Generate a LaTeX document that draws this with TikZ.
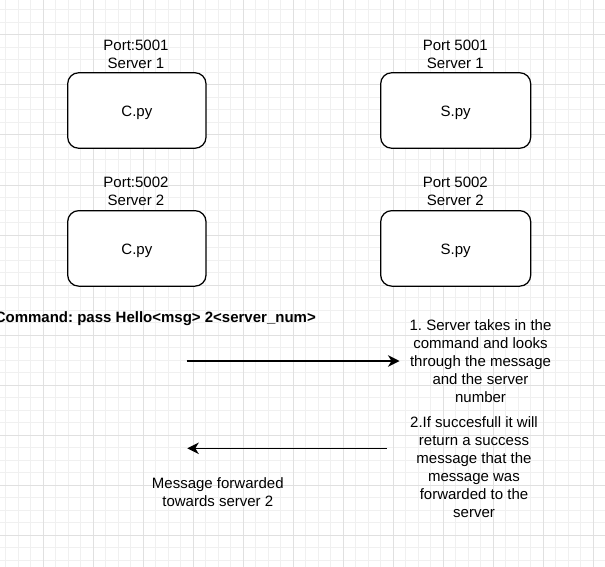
\documentclass[tikz,border=0pt]{standalone}
\usepackage{fontspec}
\setmainfont{Liberation Sans}
\usetikzlibrary{arrows.meta}
\definecolor{gridminor}{HTML}{F0F0F0}
\definecolor{gridmajor}{HTML}{E0E0E0}
\frenchspacing
\begin{document}
\begin{tikzpicture}[x=1bp,y=-1bp,
  minorline/.style={draw=gridminor, line width=1bp},
  majorline/.style={draw=gridmajor, line width=1bp},
  lbl/.style={inner sep=0pt, align=center, font=\fontsize{15bp}{17.6bp}\selectfont, anchor=north},
  blk/.style={inner sep=0pt, align=center, font=\fontsize{15bp}{17.9bp}\selectfont, anchor=north},
  pybox/.style={draw=black, fill=white, line width=1.25bp, rounded corners=11bp, minimum height=75.5bp, inner sep=0pt, font=\fontsize{15bp}{18bp}\selectfont, text height=13bp, text depth=0pt},
  flow/.style={draw=black, line width=1.25bp, -{Stealth[length=11.5bp,width=11.5bp,inset=3.5bp]}}]
\useasboundingbox (0,0) rectangle (605,567);
\fill[white] (0,0) rectangle (605,567);
% grid
\foreach \x in {5.83,18.33,...,605} \draw[minorline] (\x,0) -- (\x,567);
\foreach \y in {10,22.5,...,567} \draw[minorline] (0,\y) -- (605,\y);
\foreach \x in {43.33,93.33,...,605} \draw[majorline] (\x,0) -- (\x,567);
\foreach \y in {35,85,...,567} \draw[majorline] (0,\y) -- (605,\y);
% boxes
\node[pybox, minimum width=138.3bp] (c1) at (136.85,110.5) {C.py};
\node[pybox, minimum width=150bp] (s1) at (455.7,110.5) {S.py};
\node[pybox, minimum width=138.3bp] (c2) at (136.85,248.4) {C.py};
\node[pybox, minimum width=150bp] (s2) at (455.7,248.4) {S.py};
% labels
\node[lbl] (c1l) at (136,40.2) {Port:5001\\Server 1};
\node[lbl] (s1l) at (455.3,40.2) {Port 5001\\Server 1};
\node[lbl] (c2l) at (136,177.2) {Port:5002\\Server 2};
\node[lbl] (s2l) at (455.3,177.2) {Port 5002\\Server 2};
% command
\node[inner sep=0pt, anchor=base east, font=\bfseries\fontsize{15bp}{18bp}\selectfont] (cmd) at (316,322.2) {Command: pass Hello<msg> 2<server\_num>};
% steps
\node[blk] (step1) at (480.5,319.5) {1. Server takes in the\\command and looks\\through the message\\and the server\\number};
\node[blk] (step2) at (474,416.7) {2.If succesfull it will\\return a success\\message that the\\message was\\forwarded to the\\server};
\node[blk] (fwd) at (217.8,477.5) {Message forwarded\\towards server 2};
% arrows
\coordinate (a1s) at (186.7,361);
\coordinate (a1e) at (399.5,361);
\coordinate (a2s) at (386.7,448.3);
\coordinate (a2e) at (187.3,448.3);
\draw[flow] (a1s) -- (a1e);
\draw[flow] (a2s) -- (a2e);
\end{tikzpicture}
\end{document}
